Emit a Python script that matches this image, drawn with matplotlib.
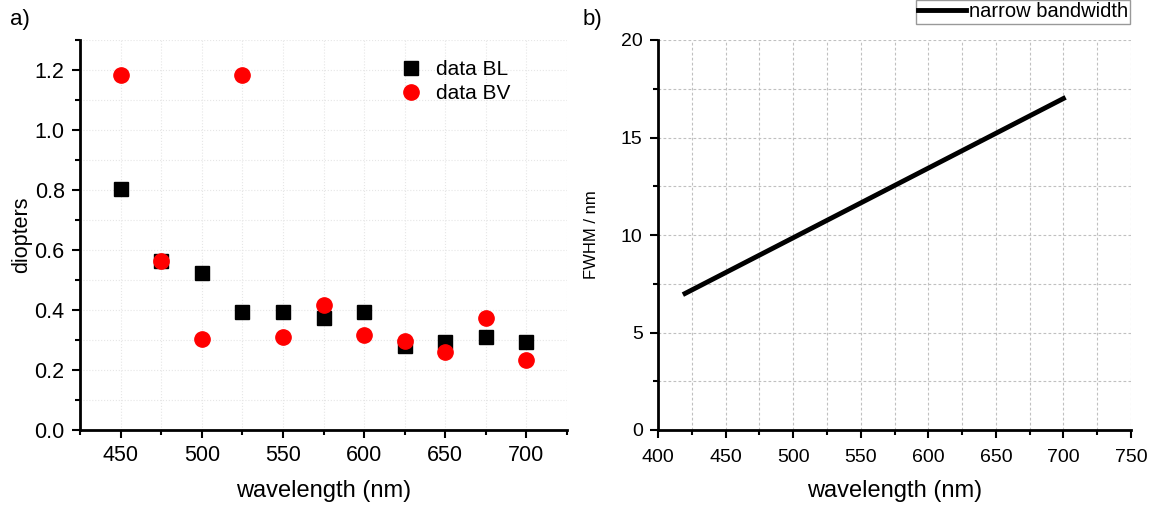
import matplotlib
matplotlib.use('Agg')
from matplotlib import pyplot as plt
from matplotlib.ticker import MultipleLocator

plt.rcParams['font.family'] = ['Liberation Sans', 'DejaVu Sans']

wl = [450, 475, 500, 525, 550, 575, 600, 625, 650, 675, 700]
data_bl = [0.803, 0.562, 0.522, 0.395, 0.395, 0.375, 0.395, 0.280, 0.292, 0.310, 0.292]
data_bv = [1.185, 0.562, 0.305, 1.185, 0.310, 0.417, 0.318, 0.297, 0.260, 0.375, 0.235]

fwhm_wl = [420, 700]
fwhm = [7, 17]

fig = plt.figure(figsize=(11.68, 5.08), dpi=100)
ax1 = fig.add_axes([80/1168, 1-430/508, 487/1168, 390/508])
ax2 = fig.add_axes([658/1168, 1-430/508, 473/1168, 390/508])

for ax in (ax1, ax2):
    for s in ('top', 'right'):
        ax.spines[s].set_visible(False)
    for s in ('left', 'bottom'):
        ax.spines[s].set_linewidth(2)
    ax.tick_params(which='major', direction='out', length=6, width=1.5, pad=5)
    ax.tick_params(which='minor', direction='out', length=3.5, width=1.5)

# panel a
ax1.plot(wl, data_bl, 's', color='black', markersize=10, label='data BL')
ax1.plot(wl, data_bv, 'o', color='red', markersize=11, label='data BV')
ax1.set_xlim(425, 725)
ax1.set_ylim(0, 1.3)
ax1.xaxis.set_major_locator(MultipleLocator(50))
ax1.xaxis.set_minor_locator(MultipleLocator(25))
ax1.yaxis.set_major_locator(MultipleLocator(0.2))
ax1.yaxis.set_minor_locator(MultipleLocator(0.1))
ax1.yaxis.set_major_formatter(matplotlib.ticker.FormatStrFormatter('%.1f'))
ax1.tick_params(which='major', labelsize=15.5)
ax1.grid(True, which='both', color='#e6e6e6', linestyle=':', linewidth=0.8)
ax1.set_axisbelow(True)
ax1.set_xlabel('wavelength (nm)', fontsize=17, labelpad=10)
ax1.set_ylabel('diopters', fontsize=15.5, labelpad=2)
ax1.legend(loc='upper right', bbox_to_anchor=(0.905, 0.975), frameon=False, fontsize=15,
           handletextpad=0.6, labelspacing=0.25, borderpad=0, handlelength=1.2)
fig.text(10/1168, 1-20/508, 'a)', fontsize=16, va='center')

# panel b
ax2.plot(fwhm_wl, fwhm, color='black', linewidth=3.5, label='narrow bandwidth')
ax2.set_xlim(400, 750)
ax2.set_ylim(0, 20)
ax2.xaxis.set_major_locator(MultipleLocator(50))
ax2.xaxis.set_minor_locator(MultipleLocator(25))
ax2.yaxis.set_major_locator(MultipleLocator(5))
ax2.yaxis.set_minor_locator(MultipleLocator(2.5))
ax2.tick_params(which='major', labelsize=14)
ax2.tick_params(axis='x', which='major', pad=8)
ax2.grid(True, which='both', color='#c0c0c0', linestyle=(0, (2.5, 2)), linewidth=0.8)
ax2.set_axisbelow(True)
ax2.set_xlabel('wavelength (nm)', fontsize=17, labelpad=10)
ax2.set_ylabel('FWHM / nm', fontsize=12, labelpad=16)
leg = ax2.legend(loc='upper right', bbox_to_anchor=(0.998, 1.103), fontsize=14.5, fancybox=False,
                 handlelength=2.4, handletextpad=0.1, borderpad=0.12, borderaxespad=0)
leg.get_frame().set_edgecolor('#808080')
leg.get_frame().set_linewidth(1)
fig.text(583/1168, 1-20/508, 'b)', fontsize=16, va='center')

fig.savefig('out.png', dpi=100)
